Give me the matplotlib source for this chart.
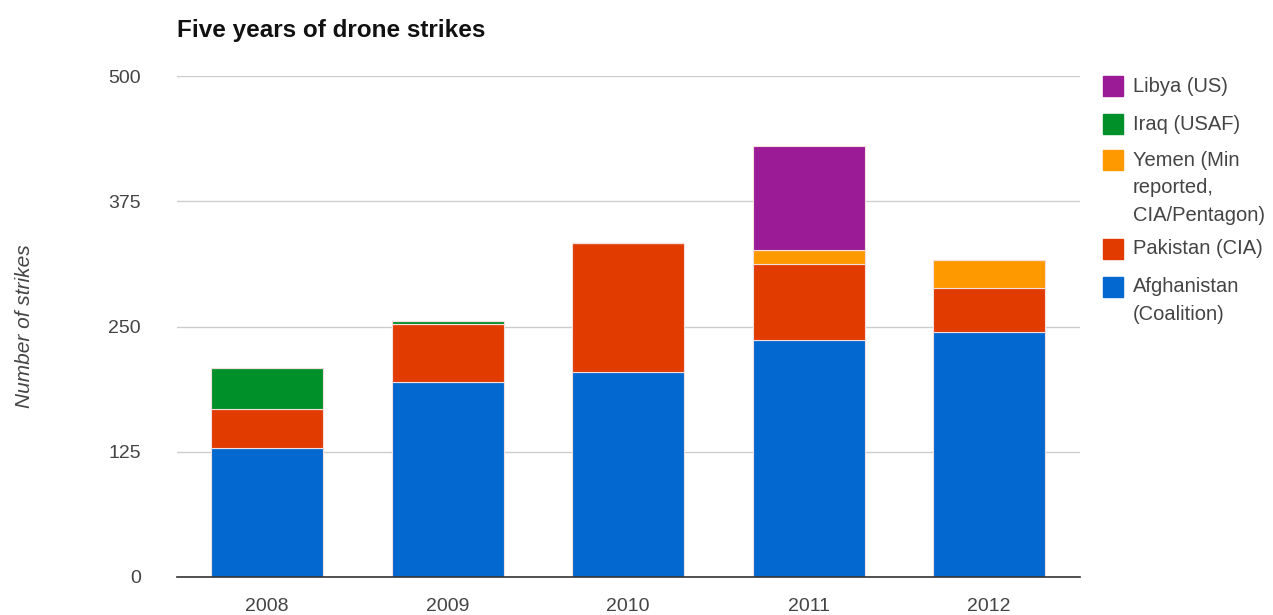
import matplotlib.pyplot as plt
import numpy as np
from matplotlib.patches import Rectangle

plt.rcParams['font.family'] = ['Liberation Sans', 'DejaVu Sans']

years = ['2008', '2009', '2010', '2011', '2012']
afghanistan = [129, 195, 205, 237, 245]
pakistan = [39, 57, 128, 75, 43]
yemen = [0, 0, 0, 14, 28]
iraq = [41, 3, 0, 0, 0]
libya = [0, 0, 0, 104, 0]

series = [afghanistan, pakistan, yemen, iraq, libya]
colors = ['#0369d0', '#e23b00', '#ff9900', '#00902a', '#9b1b97']
legend_labels = ['Libya (US)', 'Iraq (USAF)', 'Yemen (Min\nreported,\nCIA/Pentagon)',
                 'Pakistan (CIA)', 'Afghanistan\n(Coalition)']
legend_colors = ['#9b1b97', '#00902a', '#ff9900', '#e23b00', '#0369d0']
yticks = [0, 125, 250, 375, 500]

fig = plt.figure(figsize=(12.73, 6.15), dpi=100)
ax = fig.add_axes([0.139, 0.0618, 0.709, 0.8146])

x = np.arange(len(years))
bottom = np.zeros(len(years))
for vals, c in zip(series, colors):
    vals = np.array(vals, dtype=float)
    ax.bar(x, vals, 0.62, bottom=bottom, color=c, edgecolor='#f4dede',
           linewidth=0.8, zorder=3)
    bottom += vals

ax.set_xlim(-0.5, 4.5)
ax.set_ylim(0, 500)
ax.set_yticks(yticks)
ax.set_yticklabels([str(t) for t in yticks])
ax.set_xticks(x)
ax.set_xticklabels(years)
ax.tick_params(length=0, labelsize=14, colors='#444444')
ax.tick_params(axis='y', pad=26)
ax.tick_params(axis='x', pad=15)
ax.grid(axis='y', color='#cccccc', linewidth=1, zorder=0)
for s in ['top', 'right', 'left']:
    ax.spines[s].set_visible(False)
ax.spines['bottom'].set_color('#333333')
ax.spines['bottom'].set_linewidth(1.2)
ax.spines['bottom'].set_zorder(4)

ax.set_ylabel('Number of strikes', fontsize=15, style='italic', color='#444444',
              labelpad=0)
ax.yaxis.set_label_coords(-0.158, 0.5)

fig.text(0.139, 0.951, 'Five years of drone strikes', fontsize=17.5,
         fontweight='bold', color='#111111', va='center', ha='left')

# legend drawn by hand
line_h = 27.5 / 615
ys = [86, 124, 160, 249, 287]
for lab, c, yp in zip(legend_labels, legend_colors, ys):
    yf = 1 - yp / 615
    fig.patches.append(Rectangle((1103 / 1273, yf - 10 / 615), 20 / 1273, 20 / 615,
                                 transform=fig.transFigure, color=c))
    for i, part in enumerate(lab.split('\n')):
        fig.text(1133 / 1273, yf - i * line_h, part, fontsize=14.5,
                 color='#444444', va='center', ha='left')

plt.savefig('out.png', dpi=100)
